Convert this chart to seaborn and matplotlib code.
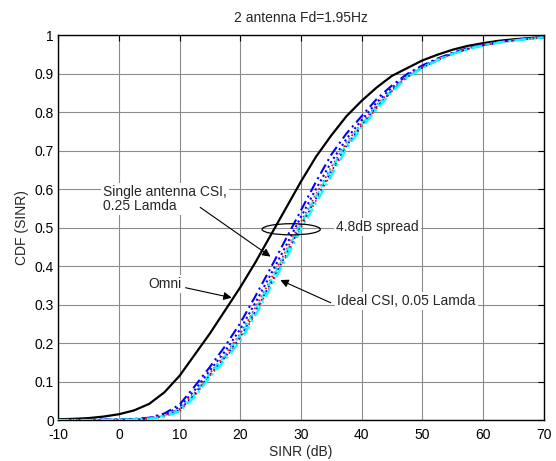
import numpy as np
import pandas as pd
import matplotlib
matplotlib.use("Agg")
from matplotlib import pyplot as plt, patches as mpatches
import seaborn as sns

# SINR grid (dB) shared by all curves, CDF value of each curve read at each point
sinr = [-10, -7.5, -5, -2.5, 0, 2.5, 5, 7.5, 10, 12.5, 15, 17.5, 20, 22.5, 25, 27.5,
        30, 32.5, 35, 37.5, 40, 42.5, 45, 47.5, 50, 52.5, 55, 57.5, 60, 62.5, 65, 67.5, 70]

omni = [0.002, 0.003, 0.005, 0.009, 0.015, 0.025, 0.042, 0.072, 0.115, 0.17, 0.225, 0.285,
        0.345, 0.41, 0.48, 0.55, 0.62, 0.685, 0.74, 0.79, 0.83, 0.865, 0.895, 0.915,
        0.935, 0.95, 0.963, 0.973, 0.98, 0.986, 0.99, 0.993, 0.996]
single_csi = [0, 0, 0, 0.001, 0.002, 0.003, 0.006, 0.017, 0.04, 0.088, 0.138, 0.192,
              0.252, 0.322, 0.395, 0.47, 0.545, 0.62, 0.69, 0.745, 0.79, 0.835, 0.87, 0.9,
              0.922, 0.94, 0.955, 0.967, 0.976, 0.983, 0.988, 0.992, 0.995]
mid_b1 = [0, 0, 0, 0.001, 0.001, 0.002, 0.005, 0.014, 0.034, 0.078, 0.129, 0.179,
          0.236, 0.305, 0.378, 0.452, 0.528, 0.601, 0.671, 0.731, 0.78, 0.826, 0.864, 0.897,
          0.92, 0.938, 0.954, 0.966, 0.975, 0.982, 0.988, 0.992, 0.995]
mid_r1 = [0, 0, 0, 0, 0.001, 0.002, 0.004, 0.012, 0.029, 0.071, 0.122, 0.17,
          0.224, 0.292, 0.365, 0.439, 0.515, 0.587, 0.657, 0.721, 0.772, 0.819, 0.86, 0.894,
          0.918, 0.937, 0.953, 0.965, 0.975, 0.982, 0.988, 0.992, 0.995]
mid_c1 = [0, 0, 0, 0, 0.001, 0.002, 0.004, 0.011, 0.027, 0.068, 0.12, 0.167,
          0.22, 0.287, 0.36, 0.434, 0.51, 0.582, 0.652, 0.717, 0.769, 0.816, 0.858, 0.893,
          0.917, 0.937, 0.953, 0.965, 0.975, 0.982, 0.987, 0.991, 0.995]
mid_b2 = [0, 0, 0, 0, 0, 0.001, 0.004, 0.01, 0.026, 0.066, 0.117, 0.163,
          0.215, 0.282, 0.355, 0.428, 0.505, 0.576, 0.646, 0.713, 0.766, 0.814, 0.856, 0.892,
          0.916, 0.936, 0.953, 0.965, 0.974, 0.981, 0.987, 0.991, 0.995]
mid_r2 = [0, 0, 0, 0, 0, 0.001, 0.003, 0.009, 0.024, 0.063, 0.115, 0.16,
          0.21, 0.277, 0.35, 0.423, 0.5, 0.571, 0.641, 0.709, 0.763, 0.811, 0.855, 0.891,
          0.916, 0.936, 0.952, 0.964, 0.974, 0.981, 0.987, 0.991, 0.995]
ideal_csi = [0, 0, 0, 0, 0, 0.001, 0.003, 0.008, 0.022, 0.06, 0.112, 0.156,
             0.205, 0.272, 0.345, 0.418, 0.495, 0.565, 0.635, 0.705, 0.76, 0.808, 0.853, 0.89,
             0.915, 0.935, 0.952, 0.964, 0.974, 0.981, 0.987, 0.991, 0.995]

series = [
    ("omni", omni, "black", "-", 1.6),
    ("single_csi", single_csi, "#0000ff", (0, (5, 2, 1, 2)), 1.5),
    ("mid_b1", mid_b1, "#0000ff", (0, (1, 1.5)), 1.5),
    ("mid_r1", mid_r1, "#ff0000", (0, (1, 1.5)), 1.3),
    ("mid_c1", mid_c1, "#00ffff", (0, (4, 2)), 1.5),
    ("mid_b2", mid_b2, "#0000ff", (0, (1, 2)), 1.2),
    ("mid_r2", mid_r2, "#ff0000", (0, (1, 2.5)), 1.2),
    ("ideal_csi", ideal_csi, "#00ffff", (0, (5, 2, 1, 2)), 1.6),
]

sns.set_style("white")
plt.rcParams["font.family"] = ["Liberation Sans", "DejaVu Sans"]
plt.rcParams["axes.unicode_minus"] = False

fig, ax = plt.subplots(figsize=(5.56, 4.61), dpi=100)
fig.subplots_adjust(left=0.1047, right=0.9777, bottom=0.0889, top=0.923)

for name, vals, color, ls, lw in series:
    df = pd.DataFrame({"sinr": sinr, "cdf": vals})
    sns.lineplot(data=df, x="sinr", y="cdf", color=color, linestyle=ls, linewidth=lw,
                 sort=False, estimator=None, ax=ax, zorder=3)

ax.set_xlim(-10, 70)
ax.set_ylim(0, 1)
ax.set_xticks(np.arange(-10, 71, 10))
ax.set_yticks(np.arange(0, 1.01, 0.1))
ax.set_yticklabels(["0", "0.1", "0.2", "0.3", "0.4", "0.5", "0.6", "0.7", "0.8", "0.9", "1"])
ax.grid(True, color="#8c8c8c", linewidth=0.8, linestyle="-")
ax.set_axisbelow(True)
ax.tick_params(direction="in", length=4, width=0.8, top=True, right=True,
               labelsize=10, colors="black")
ax.tick_params(axis="x", pad=6)
ax.tick_params(axis="y", pad=3)
for sp in ax.spines.values():
    sp.set_color("black")
    sp.set_linewidth(1.0)

ax.set_title("2 antenna Fd=1.95Hz", fontsize=10, pad=10)
ax.set_xlabel("SINR (dB)", fontsize=10, labelpad=2)
ax.set_ylabel("CDF (SINR)", fontsize=10, labelpad=4)

box = dict(facecolor="white", edgecolor="none", pad=1.5)
arrow = dict(arrowstyle="-|>", color="black", lw=0.8, mutation_scale=12,
             shrinkA=0, shrinkB=0)

ax.text(-2.6, 0.612, "Single antenna CSI,\n0.25 Lamda", fontsize=10, ha="left", va="top",
        bbox=box, linespacing=1.05, zorder=5)
ax.annotate("", xy=(25.0, 0.425), xytext=(13.4, 0.553), arrowprops=arrow, zorder=5)

ax.text(4.8, 0.354, "Omni", fontsize=10, ha="left", va="center", bbox=box, zorder=5)
ax.annotate("", xy=(18.6, 0.318), xytext=(11.0, 0.344), arrowprops=arrow, zorder=5)

ax.text(36.0, 0.31, "Ideal CSI, 0.05 Lamda", fontsize=10, ha="left", va="center",
        bbox=box, zorder=5)
ax.annotate("", xy=(26.6, 0.364), xytext=(34.9, 0.305), arrowprops=arrow, zorder=5)

ax.text(35.8, 0.502, "4.8dB spread", fontsize=10, ha="left", va="center",
        bbox=box, zorder=5)
ax.add_patch(mpatches.Ellipse((28.4, 0.496), 9.6, 0.029, facecolor="none",
                              edgecolor="black", lw=0.9, zorder=5))

fig.savefig("out.png", dpi=100)
